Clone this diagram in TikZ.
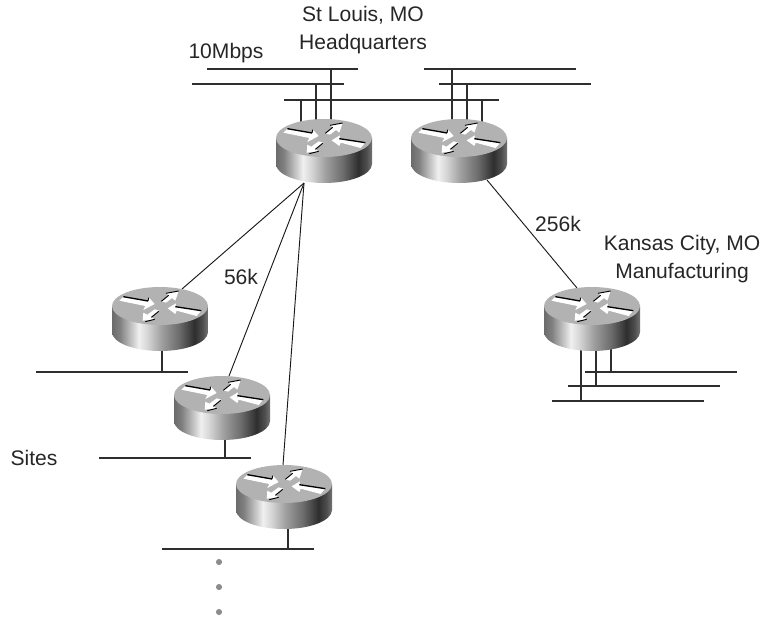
\documentclass[tikz,border=0pt]{standalone}
\usepackage{fontspec}
\setmainfont{Liberation Sans}
\pgfdeclarehorizontalshading{routerside}{100bp}{
  color(0bp)=(black!58);color(25bp)=(black!58);color(29bp)=(black!50);color(34bp)=(black!28);color(39bp)=(black!6);
  color(43bp)=(black!15);color(51bp)=(black!38);color(60bp)=(black!58);color(68bp)=(black!82);
  color(72bp)=(black!70);color(75bp)=(black!55);color(100bp)=(black!55)}
\tikzset{
  x=0.75pt,y=-0.75pt,
  rtr/.style={minimum width=72.75pt,minimum height=48pt,inner sep=0pt,outer sep=0pt},
  bus/.style={draw=black!82,line width=0.9pt},
  link/.style={draw=black!90,line width=0.7pt},
  lbl/.style={font=\fontsize{15.8}{18}\selectfont,text=black!85,align=center,inner sep=0pt},
  dot/.style={circle,fill=black!45,draw=none,minimum size=4.6pt,inner sep=0pt},
  routerpic/.pic={
    \shade[shading=routerside] (-48,-13) -- (-48,13) arc[start angle=180,end angle=0,x radius=48,y radius=19] -- (48,-13) -- cycle;
    \fill[black!30] (0,-13) ellipse [x radius=48,y radius=19];
    \begin{scope}[shift={(-54,-39)},x=.25pt,y=-.25pt]
      \fill[white] (52,50)--(40,62)--(118,78)--(112,90)--(146,72)--(128,52)--(126,63)--cycle;
      \fill[white] (166,64)--(188,46)--(180,40)--(218,33)--(208,62)--(198,54)--(180,68)--cycle;
      \fill[white] (185,85)--(210,70)--(208,80)--(286,92)--(272,108)--(212,92)--(208,102)--cycle;
      \fill[white] (110,122)--(112,98)--(124,104)--(146,88)--(160,92)--(136,112)--(146,118)--cycle;
      \draw[black,line width=1pt] (52,50)--(126,63);
      \draw[black,line width=.7pt] (126,63)--(128,53);
      \draw[black,line width=.7pt] (166,64)--(188,46) (180,40)--(218,33);
      \draw[black,line width=1pt] (208,80)--(286,92);
      \draw[black,line width=.7pt] (136,112)--(158,94) (118,125)--(146,118);
    \end{scope}
  }
}
\begin{document}
\begin{tikzpicture}
\useasboundingbox (0,0) rectangle (763,618);
\node[rtr] (r1) at (324,151) {};
\node[rtr] (r2) at (459,151) {};
\node[rtr] (r3) at (592,319) {};
\node[rtr] (ra) at (160,319) {};
\node[rtr] (rb) at (222,408) {};
\node[rtr] (rc) at (284,497) {};
\coordinate (b1l) at (207,69);  \coordinate (b1r) at (358,69);
\coordinate (b2l) at (192,84);  \coordinate (b2r) at (344,84);
\coordinate (b3l) at (284,100); \coordinate (b3r) at (499,100);
\coordinate (b4l) at (424,69);  \coordinate (b4r) at (576,69);
\coordinate (b5l) at (439,84);  \coordinate (b5r) at (591,84);
\coordinate (k1l) at (585,372); \coordinate (k1r) at (737,372);
\coordinate (k2l) at (568,386); \coordinate (k2r) at (720,386);
\coordinate (k3l) at (552,401); \coordinate (k3r) at (704,401);
\coordinate (sal) at (36,372);  \coordinate (sar) at (188,372);
\coordinate (sbl) at (99,458);  \coordinate (sbr) at (251,458);
\coordinate (scl) at (162,549); \coordinate (scr) at (314,549);
\coordinate (d1) at (331,69);  \coordinate (d2) at (316,84);  \coordinate (d3) at (301,100);
\coordinate (d4) at (452,69);  \coordinate (d5) at (467,84);  \coordinate (d6) at (482,100);
\coordinate (d7) at (611,372); \coordinate (d8) at (596,386); \coordinate (d9) at (581,401);
\coordinate (da) at (162,372); \coordinate (db) at (225,458); \coordinate (dc) at (288,549);
\coordinate (l1) at (304,183); \coordinate (la) at (182,289);
\coordinate (lb) at (229,376); \coordinate (lc) at (283,465);
\coordinate (l2) at (487,180); \coordinate (l3) at (577,288);
\foreach \n in {b1,b2,b3,b4,b5,k1,k2,k3,sa,sb,sc} \draw[bus] (\n l) -- (\n r);
\foreach \d/\r in {d1/r1,d2/r1,d3/r1,d4/r2,d5/r2,d6/r2,d7/r3,d8/r3,d9/r3,da/ra,db/rb,dc/rc}
  \draw[bus,line width=0.8pt] (\d) -- (\d |- \r);
\draw[link] (l1) -- (la);
\draw[link] (l1) -- (lb);
\draw[link] (l1) -- (lc);
\draw[link] (l2) -- (l3);
\foreach \r in {r1,r2,r3,ra,rb,rc} \pic at (\r) {routerpic};
\node[dot] (p1) at (219,562) {};
\node[dot] (p2) at (219,587) {};
\node[dot] (p3) at (219,612) {};
\node[lbl] (t1) at (363,30) {St Louis, MO\\[2.5pt]Headquarters};
\node[lbl] (t2) at (226,53) {10Mbps};
\node[lbl] (t3) at (241,277) {56k};
\node[lbl] (t4) at (558,224) {256k};
\node[lbl] (t5) at (682,259) {Kansas City, MO\\[2.5pt]Manufacturing};
\node[lbl] (t6) at (34,458) {Sites};
\end{tikzpicture}
\end{document}
